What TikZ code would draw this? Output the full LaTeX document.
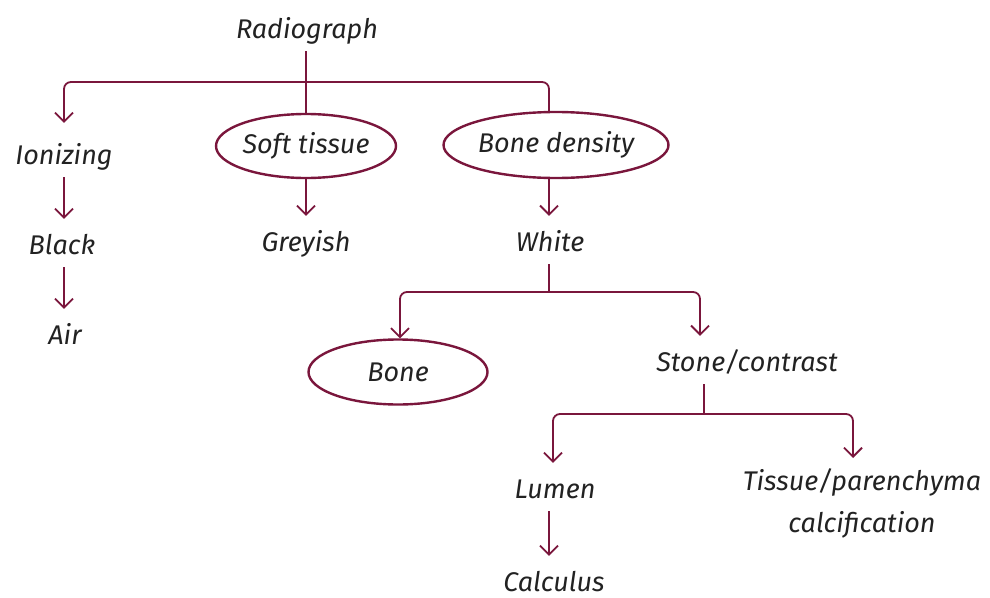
\documentclass[tikz,border=0pt]{standalone}
\usepackage{fontspec}
\setmainfont{Fira Sans}
\usetikzlibrary{arrows.meta,shapes.geometric}
\definecolor{maroon}{RGB}{122,22,60}
\definecolor{ink}{RGB}{34,34,34}
\tikzset{
  lbl/.style={inner sep=0pt, text height=35pt, text depth=13pt, text=ink, font=\fontsize{27}{32}\selectfont\itshape},
  oval/.style={ellipse, draw=maroon, line width=2.4pt, inner sep=0pt, text=ink, font=\fontsize{27}{32}\selectfont\itshape},
  con/.style={draw=maroon, line width=1.8pt},
  arr/.style={con, -{Straight Barb[length=9pt,width=18pt,line width=1.8pt]}},
  rc/.style={rounded corners=7pt}
}
\begin{document}
\begin{tikzpicture}[x=1pt,y=-1pt]
\useasboundingbox (0,0) rectangle (990,597);
\node[lbl] (radio) at (307,27) {Radiograph};
\node[lbl] (ion) at (64,153) {Ionizing};
\node[oval, minimum width=180pt, minimum height=64pt] (soft) at (306,146) {Soft tissue};
\node[oval, minimum width=225pt, minimum height=66pt] (bd) at (556,145) {Bone density};
\node[lbl] (black) at (62,243) {Black};
\node[lbl] (air) at (65,333) {Air};
\node[lbl] (grey) at (306,240) {Greyish};
\node[lbl] (white) at (550,240) {White};
\node[oval, minimum width=179pt, minimum height=65pt] (bone) at (398,372) {Bone};
\node[lbl] (stone) at (747,360) {Stone/contrast};
\node[lbl] (lumen) at (555,487) {Lumen};
\node[lbl] (calc) at (554,580) {Calculus};
\node[inner sep=0pt, text=ink, align=center, font=\fontsize{27}{42}\selectfont\itshape] (tissue) at (862,503) {Tissue/parenchyma\\calcification};

\coordinate (j1) at (306,82);
\coordinate (j2) at (549,292);
\coordinate (j3) at (704,414);

\draw[con] (radio.south -| soft.north) -- (soft.north);
\draw[arr, rc] (j1) -| ([yshift=6pt]ion.north);
\draw[con, rc] (j1) -| ([xshift=-7pt]bd.north);
\draw[arr] (ion.south) -- (ion.south |- black.north);
\draw[arr] (ion.south |- black.south) -- (ion.south |- air.north);
\draw[arr] (soft.south) -- (grey.north);
\draw[arr] (bd.south -| j2) -- (j2 |- white.north);
\draw[con] (j2 |- white.south) -- (j2);
\draw[arr, rc] (j2) -| ([xshift=2pt]bone.north);
\draw[arr, rc] (j2) -| ([xshift=-47pt]stone.north);
\draw[con] ([xshift=-43pt]stone.south) -- (j3);
\draw[arr, rc] (j3) -| ([xshift=-2pt]lumen.north);
\draw[arr, rc] (j3) -| ([xshift=-9pt,yshift=10pt]tissue.north);
\draw[arr] ([xshift=-6pt]lumen.south) -- ([xshift=-6pt]lumen.south |- calc.north);
\end{tikzpicture}
\end{document}
